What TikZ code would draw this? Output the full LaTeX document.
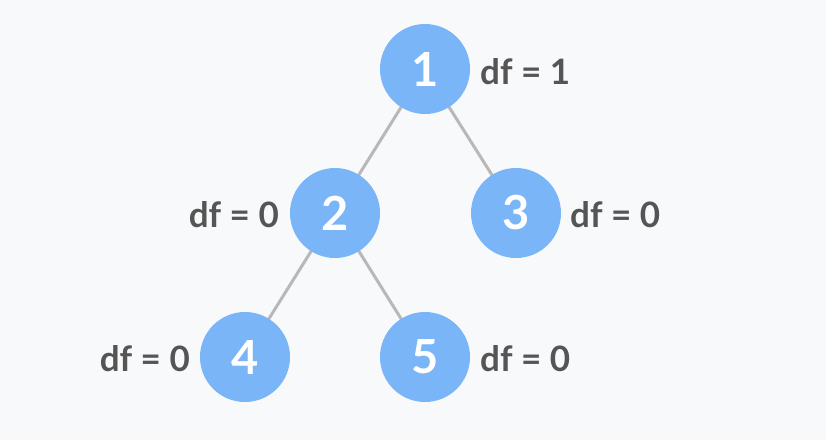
\documentclass[tikz,border=0pt]{standalone}
\usepackage{fontspec}
\setmainfont{Lato}
\definecolor{bg}{HTML}{F8F9FB}
\definecolor{nodeblue}{HTML}{7AB5F8}
\definecolor{edgegray}{HTML}{B8B8B8}
\definecolor{labelgray}{HTML}{555555}
\begin{document}
\begin{tikzpicture}[x=1pt,y=-1pt,
  vnode/.style={circle,fill=nodeblue,minimum size=90pt,inner sep=0pt,text=white,font=\fontsize{47}{47}\selectfont\bfseries},
  dflabel/.style={text=labelgray,font=\fontsize{35}{35}\selectfont\bfseries,inner sep=0pt},
  edge/.style={draw=edgegray,line width=3pt}]
\fill[bg] (0,0) rectangle (826,440);
\useasboundingbox (0,0) rectangle (826,440);
\coordinate (c1) at (425,69);
\coordinate (c2) at (335,213);
\coordinate (c3) at (516,213);
\coordinate (c4) at (245,357);
\coordinate (c5) at (425,357);
\draw[edge] (c1) -- (c2);
\draw[edge] (c1) -- (c3);
\draw[edge] (c2) -- (c4);
\draw[edge] (c2) -- (c5);
\node[vnode] (n1) at (c1) {1};
\node[vnode] (n2) at (c2) {2};
\node[vnode] (n3) at (c3) {3};
\node[vnode] (n4) at (c4) {4};
\node[vnode] (n5) at (c5) {5};
\node[dflabel,anchor=west] (l1) at (480,72) {df = 1};
\node[dflabel,anchor=east] (l2) at (279,215) {df = 0};
\node[dflabel,anchor=west] (l3) at (570,215) {df = 0};
\node[dflabel,anchor=east] (l4) at (190,359) {df = 0};
\node[dflabel,anchor=west] (l5) at (480,359) {df = 0};
\end{tikzpicture}
\end{document}
